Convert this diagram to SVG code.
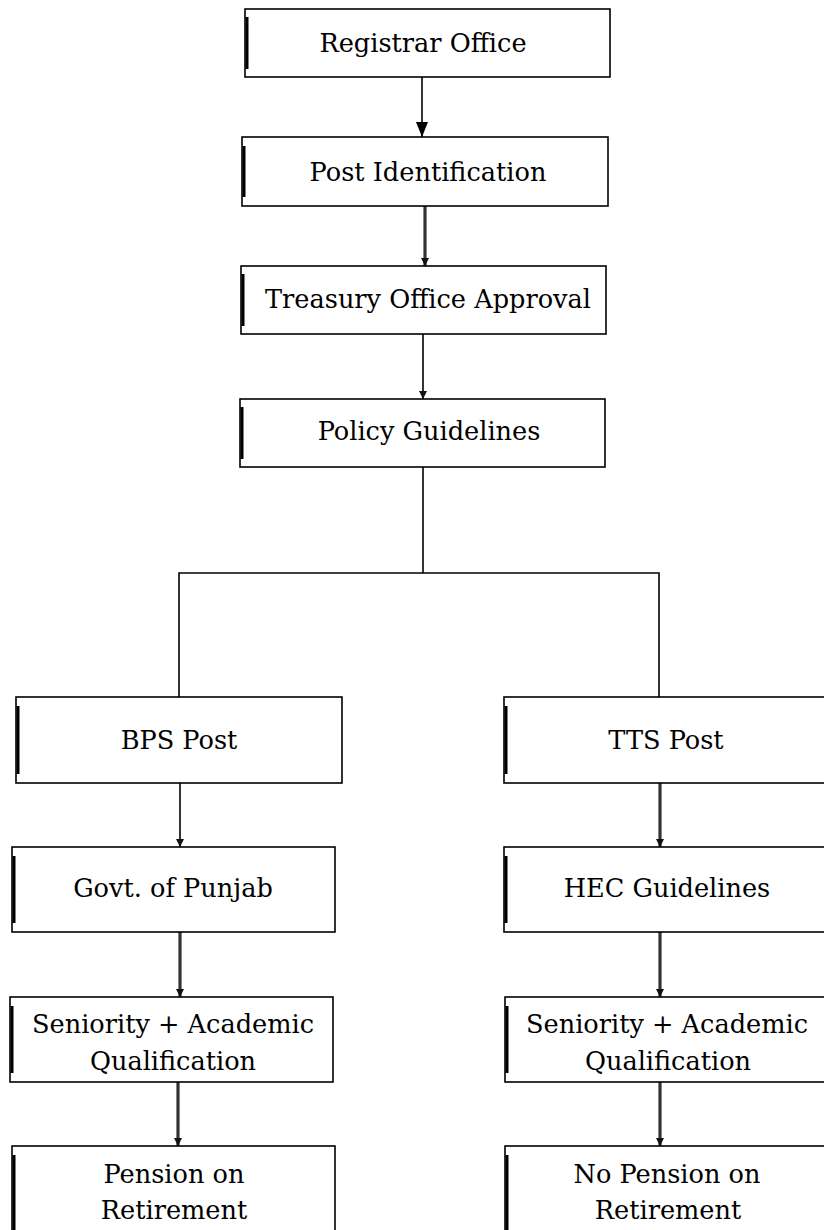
<svg xmlns="http://www.w3.org/2000/svg" width="824" height="1230" viewBox="0 0 824 1230">
<style>
  .box { fill: #fff; stroke: #000; stroke-width: 1.6; }
  .edge { stroke: #000; stroke-width: 3; }
  .t { font-family: 'DejaVu Serif', 'Liberation Serif', serif; font-size: 25.6px; fill: #000; text-anchor: middle; }
  .ln { stroke: #000; stroke-width: 1.6; fill: none; }
  .thk { stroke: #333; stroke-width: 3.2; fill: none; }
</style>
<defs>
  <marker id="ahs" markerUnits="userSpaceOnUse" markerWidth="8" markerHeight="8" refX="8" refY="4" orient="auto" viewBox="0 0 8 8">
    <path d="M0,0 L8,4 L0,8 Z" fill="#111"/>
  </marker>
  <marker id="ahb" markerUnits="userSpaceOnUse" markerWidth="15" markerHeight="12" refX="15" refY="6" orient="auto" viewBox="0 0 15 12">
    <path d="M0,0 L15,6 L0,12 Z" fill="#000"/>
  </marker>
</defs>

<g id="connectors">
  <line class="ln" x1="422" y1="77" x2="422" y2="137" marker-end="url(#ahb)"/>
  <line class="thk" x1="425" y1="206" x2="425" y2="266" marker-end="url(#ahs)"/>
  <line class="ln" x1="423" y1="334" x2="423" y2="399" marker-end="url(#ahs)"/>
  <polyline class="ln" points="423,467 423,573"/>
  <polyline class="ln" points="179,697 179,573 659,573 659,697"/>
  <line class="ln" x1="180" y1="783" x2="180" y2="847" marker-end="url(#ahs)"/>
  <line class="thk" x1="180" y1="932" x2="180" y2="997" marker-end="url(#ahs)"/>
  <line class="thk" x1="178" y1="1082" x2="178" y2="1146" marker-end="url(#ahs)"/>
  <line class="thk" x1="660" y1="783" x2="660" y2="847" marker-end="url(#ahs)"/>
  <line class="thk" x1="660" y1="932" x2="660" y2="997" marker-end="url(#ahs)"/>
  <line class="thk" x1="660" y1="1082" x2="660" y2="1146" marker-end="url(#ahs)"/>
</g>

<g id="registrar-office">
  <rect class="box" x="245" y="9" width="365" height="68"/>
  <line class="edge" x1="247" y1="17" x2="247" y2="69"/>
  <text class="t" x="423" y="52">Registrar Office</text>
</g>
<g id="post-identification">
  <rect class="box" x="242" y="137" width="366" height="69"/>
  <line class="edge" x1="244" y1="146" x2="244" y2="197"/>
  <text class="t" x="428" y="181">Post Identification</text>
</g>
<g id="treasury-office-approval">
  <rect class="box" x="241" y="266" width="365" height="68"/>
  <line class="edge" x1="243" y1="274" x2="243" y2="326"/>
  <text class="t" x="428" y="308">Treasury Office Approval</text>
</g>
<g id="policy-guidelines">
  <rect class="box" x="240" y="399" width="365" height="68"/>
  <line class="edge" x1="242" y1="407" x2="242" y2="459"/>
  <text class="t" x="429" y="440">Policy Guidelines</text>
</g>

<g id="bps-post">
  <rect class="box" x="16" y="697" width="326" height="86"/>
  <line class="edge" x1="18" y1="706" x2="18" y2="774"/>
  <text class="t" x="179" y="749">BPS Post</text>
</g>
<g id="govt-of-punjab">
  <rect class="box" x="12" y="847" width="323" height="85"/>
  <line class="edge" x1="14" y1="856" x2="14" y2="923"/>
  <text class="t" x="173" y="897">Govt. of Punjab</text>
</g>
<g id="seniority-left">
  <rect class="box" x="10" y="997" width="323" height="85"/>
  <line class="edge" x1="12" y1="1006" x2="12" y2="1073"/>
  <text class="t" x="173" y="1033">Seniority + Academic</text>
  <text class="t" x="173" y="1070">Qualification</text>
</g>
<g id="pension-on-retirement">
  <rect class="box" x="12" y="1146" width="323" height="100"/>
  <line class="edge" x1="14" y1="1155" x2="14" y2="1240"/>
  <text class="t" x="174" y="1183">Pension on</text>
  <text class="t" x="174" y="1219">Retirement</text>
</g>

<g id="tts-post">
  <rect class="box" x="504" y="697" width="330" height="86"/>
  <line class="edge" x1="506" y1="706" x2="506" y2="774"/>
  <text class="t" x="666" y="749">TTS Post</text>
</g>
<g id="hec-guidelines">
  <rect class="box" x="504" y="847" width="330" height="85"/>
  <line class="edge" x1="506" y1="856" x2="506" y2="923"/>
  <text class="t" x="667" y="897">HEC Guidelines</text>
</g>
<g id="seniority-right">
  <rect class="box" x="505" y="997" width="330" height="85"/>
  <line class="edge" x1="507" y1="1006" x2="507" y2="1073"/>
  <text class="t" x="667" y="1033">Seniority + Academic</text>
  <text class="t" x="668" y="1070">Qualification</text>
</g>
<g id="no-pension-on-retirement">
  <rect class="box" x="505" y="1146" width="330" height="100"/>
  <line class="edge" x1="507" y1="1155" x2="507" y2="1240"/>
  <text class="t" x="667" y="1183">No Pension on</text>
  <text class="t" x="668" y="1219">Retirement</text>
</g>
</svg>
